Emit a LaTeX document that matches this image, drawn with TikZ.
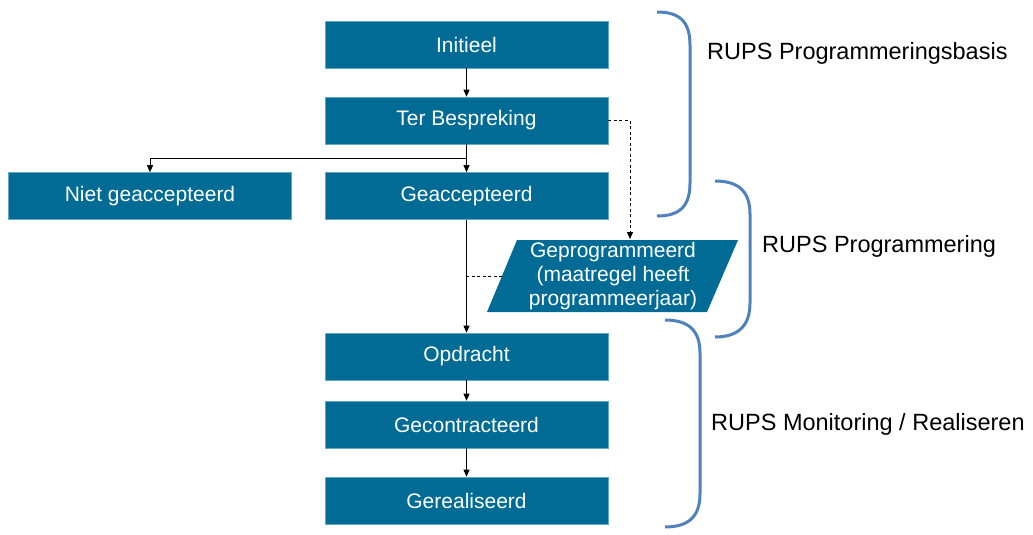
\documentclass[tikz,border=0pt]{standalone}
\usepackage{fontspec}
\setmainfont{Liberation Sans}
\usetikzlibrary{arrows.meta}
\definecolor{boxblue}{RGB}{0,108,150}
\definecolor{braceblue}{RGB}{79,129,189}
\begin{document}
\begin{tikzpicture}[x=1pt,y=-1pt,
  box/.style={fill=boxblue, draw=boxblue!60!white, line width=0.6pt, minimum width=283pt, minimum height=47pt, inner sep=0pt, text=white, font=\fontsize{21}{25}\selectfont},
  conn/.style={line width=0.8pt, -{Triangle[length=7pt,width=6pt]}},
  dconn/.style={line width=0.8pt, dash pattern=on 3pt off 2.5pt},
  brace/.style={draw=braceblue, line width=3pt},
  lbl/.style={anchor=west, font=\fontsize{23.5}{27}\selectfont, inner sep=0pt}]
\useasboundingbox (0,0) rectangle (1033,535);
\node[box] (init) at (466.5,44.5) {Initieel};
\node[box] (bespr) at (466.5,120.5) {Ter Bespreking};
\node[box] (niet) at (150,196) {Niet geaccepteerd};
\node[box] (geacc) at (466.5,196) {Geaccepteerd};
\node[box] (opdr) at (466.5,356.5) {Opdracht};
\node[box] (contr) at (466.5,424.5) {Gecontracteerd};
\node[box] (real) at (466.5,500.5) {Gerealiseerd};
% parallelogram
\fill[boxblue] (517,240) -- (738,240) -- (707,312) -- (487,312) -- cycle;
\node[text=white, align=center, font=\fontsize{21}{24}\selectfont, inner sep=0pt] (geprog) at (613,276) {Geprogrammeerd\\(maatregel heeft\\programmeerjaar)};
\coordinate (gptop) at (630,239);
\coordinate (gpleft) at (502,276);
% connectors
\draw[conn] (init) -- (bespr);
\draw[conn] (bespr) -- (geacc);
\coordinate (split) at (466.5,158);
\draw[conn] (split) -| (niet);
\draw[conn] (geacc) -- (opdr);
\draw[conn] (opdr) -- (contr);
\draw[conn] (contr) -- (real);
\draw[dconn, -{Triangle[length=7pt,width=6pt]}] (bespr.east) -| (gptop);
\draw[dconn] (gpleft) -- (466.5,276);
% braces
\draw[brace] (657,12) .. controls (680,12) and (690,22) .. (690,45) -- (690,183) .. controls (690,206) and (680,216) .. (657,216);
\draw[brace] (715,181) .. controls (738,181) and (750,191) .. (750,214) -- (750,303) .. controls (750,326) and (738,337) .. (715,337);
\draw[brace] (665,320) .. controls (688,320) and (700,330) .. (700,353) -- (700,494) .. controls (700,517) and (688,527) .. (665,527);
% labels
\node[lbl] (l1) at (707,53) {RUPS Programmeringsbasis};
\node[lbl] (l2) at (762,246) {RUPS Programmering};
\node[lbl] (l3) at (711,424) {RUPS Monitoring / Realiseren};
\end{tikzpicture}
\end{document}
